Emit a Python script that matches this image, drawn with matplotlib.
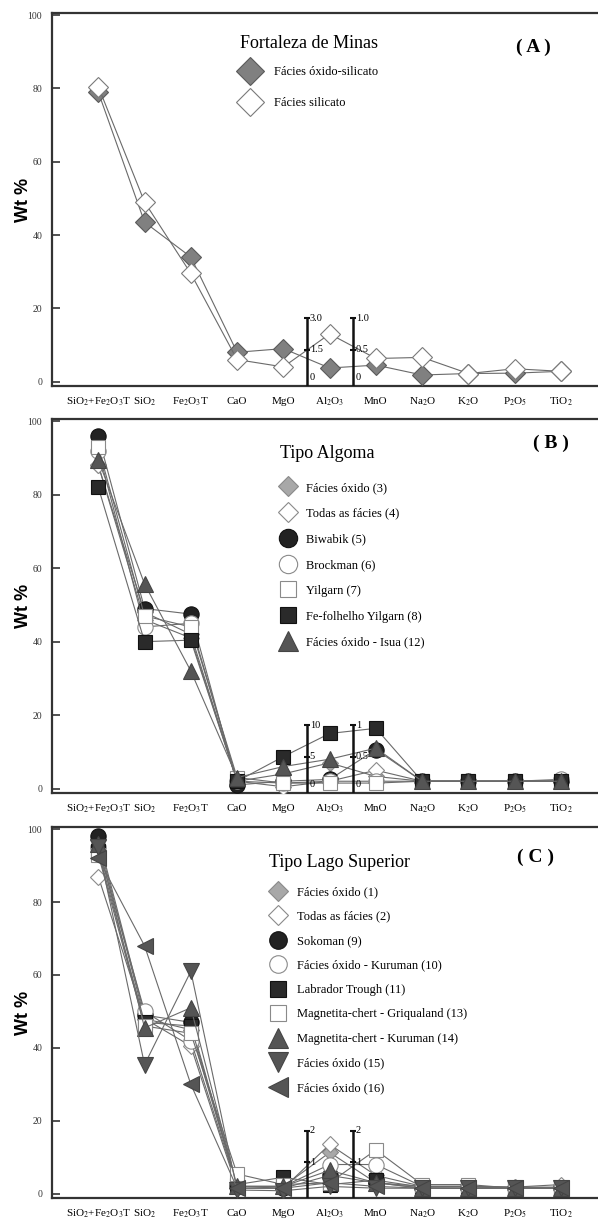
import numpy as np
import matplotlib
matplotlib.use("Agg")
import matplotlib.pyplot as plt
from matplotlib.lines import Line2D

# fonte serifada (tipo Times) para o texto, stix para os subscritos
plt.rcParams["font.family"] = ["Liberation Serif", "DejaVu Serif"]
plt.rcParams["mathtext.fontset"] = "stix"

# óxidos no eixo x
oxidos = [r"SiO$_2$+Fe$_2$O$_3$T", r"SiO$_2$", r"Fe$_2$O$_3$T", "CaO", "MgO",
          r"Al$_2$O$_3$", "MnO", r"Na$_2$O", r"K$_2$O", r"P$_2$O$_5$", r"TiO$_2$"]

# (A) Fortaleza de Minas
a_oxido_silicato = [79, 43.5, 34, 8, 9, 3.7, 4.5, 1.8, 2.2, 2.3, 2.8]
a_silicato = [80.5, 49, 29.5, 6, 4, 13, 6.3, 6.6, 2.2, 3.5, 2.8]

# (B) Tipo Algoma
b_oxido_3 = [88, 48, 42, 2, 4, 7, 3.3, 2, 2, 2, 2]
b_todas_4 = [88, 46, 41, 2, 0.5, 2, 5, 2, 2, 2, 2]
b_biwabik_5 = [96, 49, 47.5, 1, 2, 2.5, 10.6, 2, 2, 2, 2]
b_brockman_6 = [92, 44, 45, 2, 1.5, 2, 2, 2, 2, 2, 2.5]
b_yilgarn_7 = [93, 47, 44, 3, 1.5, 1.5, 1.5, 2, 2, 2, 2]
b_folhelho_8 = [82, 40, 40.4, 2, 8.7, 15, 16.4, 2, 2, 2, 2]
b_isua_12 = [89.5, 55.7, 32, 3, 6, 8, 11, 2, 2, 2, 2]

# (C) Tipo Lago Superior
c_oxido_1 = [97, 48, 45, 2, 2, 11.3, 3, 2, 2, 1.8, 1.8]
c_todas_2 = [87, 48, 40.5, 1.5, 1.5, 13.5, 5, 2, 2, 1.8, 2.5]
c_sokoman_9 = [98, 49, 47, 2, 1.5, 5, 3, 1.5, 1.5, 1.5, 1.5]
c_kuruman_10 = [95, 50, 42, 2, 2, 8, 8, 2, 2, 1.5, 1.5]
c_labrador_11 = [94, 47, 46, 2.5, 4.5, 2.5, 3.7, 1.8, 2, 1.5, 1.5]
c_griqualand_13 = [93, 46, 44, 5.4, 2.5, 3, 12, 2.5, 2.5, 1.5, 1.5]
c_kuruman_14 = [96, 45.5, 51, 2, 2, 6.4, 3, 1.5, 1.5, 1.5, 1.5]
c_oxido_15 = [95, 35.4, 61, 1, 0.8, 2, 1.5, 1.5, 1.5, 1.5, 1.5]
c_oxido_16 = [92, 68, 30, 1.5, 1.5, 3, 2, 1.5, 1.5, 1.5, 1.5]

# escalas auxiliares de Al2O3 e MnO (posição, rótulos topo/meio/base)
escala_pos = [5.5, 6.5]
escala_a = [["3.0", "1.5", "0"], ["1.0", "0.5", "0"]]
escala_b = [["10", "5", "0"], ["1", "0.5", "0"]]
escala_c = [["2", "1", ""], ["2", "1", ""]]
escala_topo = 17.3

# estilos dos marcadores
cinza_A = dict(marker="D", ms=10, mfc="#808080", mec="#5a5a5a")
aberto_A = dict(marker="D", ms=10, mfc="white", mec="#7a7a7a")
cinza_d = dict(marker="D", ms=8.5, mfc="#a8a8a8", mec="#8a8a8a")
aberto_d = dict(marker="D", ms=8.5, mfc="white", mec="#8a8a8a")
preto_o = dict(marker="o", ms=11, mfc="#222222", mec="#111111")
aberto_o = dict(marker="o", ms=11, mfc="white", mec="#8a8a8a")
aberto_s = dict(marker="s", ms=10, mfc="white", mec="#8a8a8a")
preto_s = dict(marker="s", ms=10, mfc="#2a2a2a", mec="#111111")
tri_up = dict(marker="^", ms=12, mfc="#555555", mec="#444444")
tri_dn = dict(marker="v", ms=12, mfc="#555555", mec="#444444")
tri_lf = dict(marker="<", ms=12, mfc="#555555", mec="#444444")

x = np.arange(1, len(oxidos) + 1)


def painel(ax, series, rotulos, estilos, titulo, letra, escala,
           tit_xy, leg_xy, leg_ls, escala_leg, pad_txt, letra_xy):
    for y, est in zip(series, estilos):
        ax.plot(x, y, color="#6a6a6a", lw=0.8, mew=0.8, zorder=3, **est)

    # escalas auxiliares
    for pos, labs in zip(escala_pos, escala):
        ax.plot([pos, pos], [-2, escala_topo], color="#111111", lw=1.8, zorder=4)
        ax.plot([pos, pos], [escala_topo, escala_topo / 2], ls="none", marker="_",
                ms=5, mew=1.5, color="#111111", zorder=4)
        for val, lab in zip([escala_topo, escala_topo / 2, 1.0], labs):
            ax.text(pos + 0.07, val, lab, fontsize=7.5, va="center", ha="left", zorder=5)

    # título da legenda
    ax.text(tit_xy[0], tit_xy[1], titulo, transform=ax.transAxes, fontsize=13,
            ha="left", va="center")

    handles = [Line2D([], [], ls="none", mew=0.8, **est) for est in estilos]
    ax.legend(handles, rotulos, loc="upper left",
              bbox_to_anchor=leg_xy, frameon=False, fontsize=9,
              handlelength=1.2, handletextpad=pad_txt, labelspacing=leg_ls,
              borderpad=0, borderaxespad=0, markerscale=escala_leg)

    ax.text(letra_xy[0], letra_xy[1], "( %s )" % letra, transform=ax.transAxes,
            fontsize=14, fontweight="bold", ha="center", va="center")

    ax.set_xlim(0, 11.8)
    ax.set_ylim(-1.2, 100.6)
    ax.set_yticks([0, 20, 40, 60, 80, 100])
    ax.set_xticks(x)
    ax.set_xticklabels(oxidos, fontsize=8, va="baseline")
    ax.tick_params(axis="x", length=0, pad=13)
    ax.tick_params(axis="y", direction="in", length=6, width=1.2, labelsize=7,
                   pad=7, colors="#333333")
    for s in ["left", "top", "bottom"]:
        ax.spines[s].set_linewidth(1.6)
        ax.spines[s].set_color("#333333")
    ax.spines["right"].set_visible(False)
    ax.set_ylabel("Wt %", fontsize=13, fontweight="bold", family="Liberation Sans")
    ax.yaxis.set_label_coords(-0.036, 0.5)


fig = plt.figure(figsize=(5.98, 12.23), dpi=100)
ax_a = fig.add_axes([0.087, 0.6844, 0.913, 0.305])
ax_b = fig.add_axes([0.087, 0.3516, 0.913, 0.3058])
ax_c = fig.add_axes([0.087, 0.0204, 0.913, 0.3034])

painel(ax_a, [a_oxido_silicato, a_silicato],
       ["Fácies óxido-silicato", "Fácies silicato"],
       [cinza_A, aberto_A], "Fortaleza de Minas", "A", escala_a,
       (0.344, 0.917), (0.349, 0.858), 1.54, 1.4, 1.3, (0.881, 0.909))

painel(ax_b, [b_oxido_3, b_todas_4, b_biwabik_5, b_brockman_6, b_yilgarn_7,
              b_folhelho_8, b_isua_12],
       ["Fácies óxido (3)", "Todas as fácies (4)", "Biwabik (5)", "Brockman (6)",
        "Yilgarn (7)", "Fe-folhelho Yilgarn (8)", "Fácies óxido - Isua (12)"],
       [cinza_d, aberto_d, preto_o, aberto_o, aberto_s, preto_s, tri_up],
       "Tipo Algoma", "B", escala_b,
       (0.418, 0.907), (0.418, 0.832), 1.1, 1.2, 0.9, (0.914, 0.936))

painel(ax_c, [c_oxido_1, c_todas_2, c_sokoman_9, c_kuruman_10, c_labrador_11,
              c_griqualand_13, c_kuruman_14, c_oxido_15, c_oxido_16],
       ["Fácies óxido (1)", "Todas as fácies (2)", "Sokoman (9)",
        "Fácies óxido - Kuruman (10)", "Labrador Trough (11)",
        "Magnetita-chert - Griqualand (13)", "Magnetita-chert - Kuruman (14)",
        "Fácies óxido (15)", "Fácies óxido (16)"],
       [cinza_d, aberto_d, preto_o, aberto_o, preto_s, aberto_s, tri_up, tri_dn, tri_lf],
       "Tipo Lago Superior", "C", escala_c,
       (0.397, 0.904), (0.400, 0.841), 1.0, 1.15, 0.9, (0.885, 0.919))

fig.savefig("out.png", dpi=100)
